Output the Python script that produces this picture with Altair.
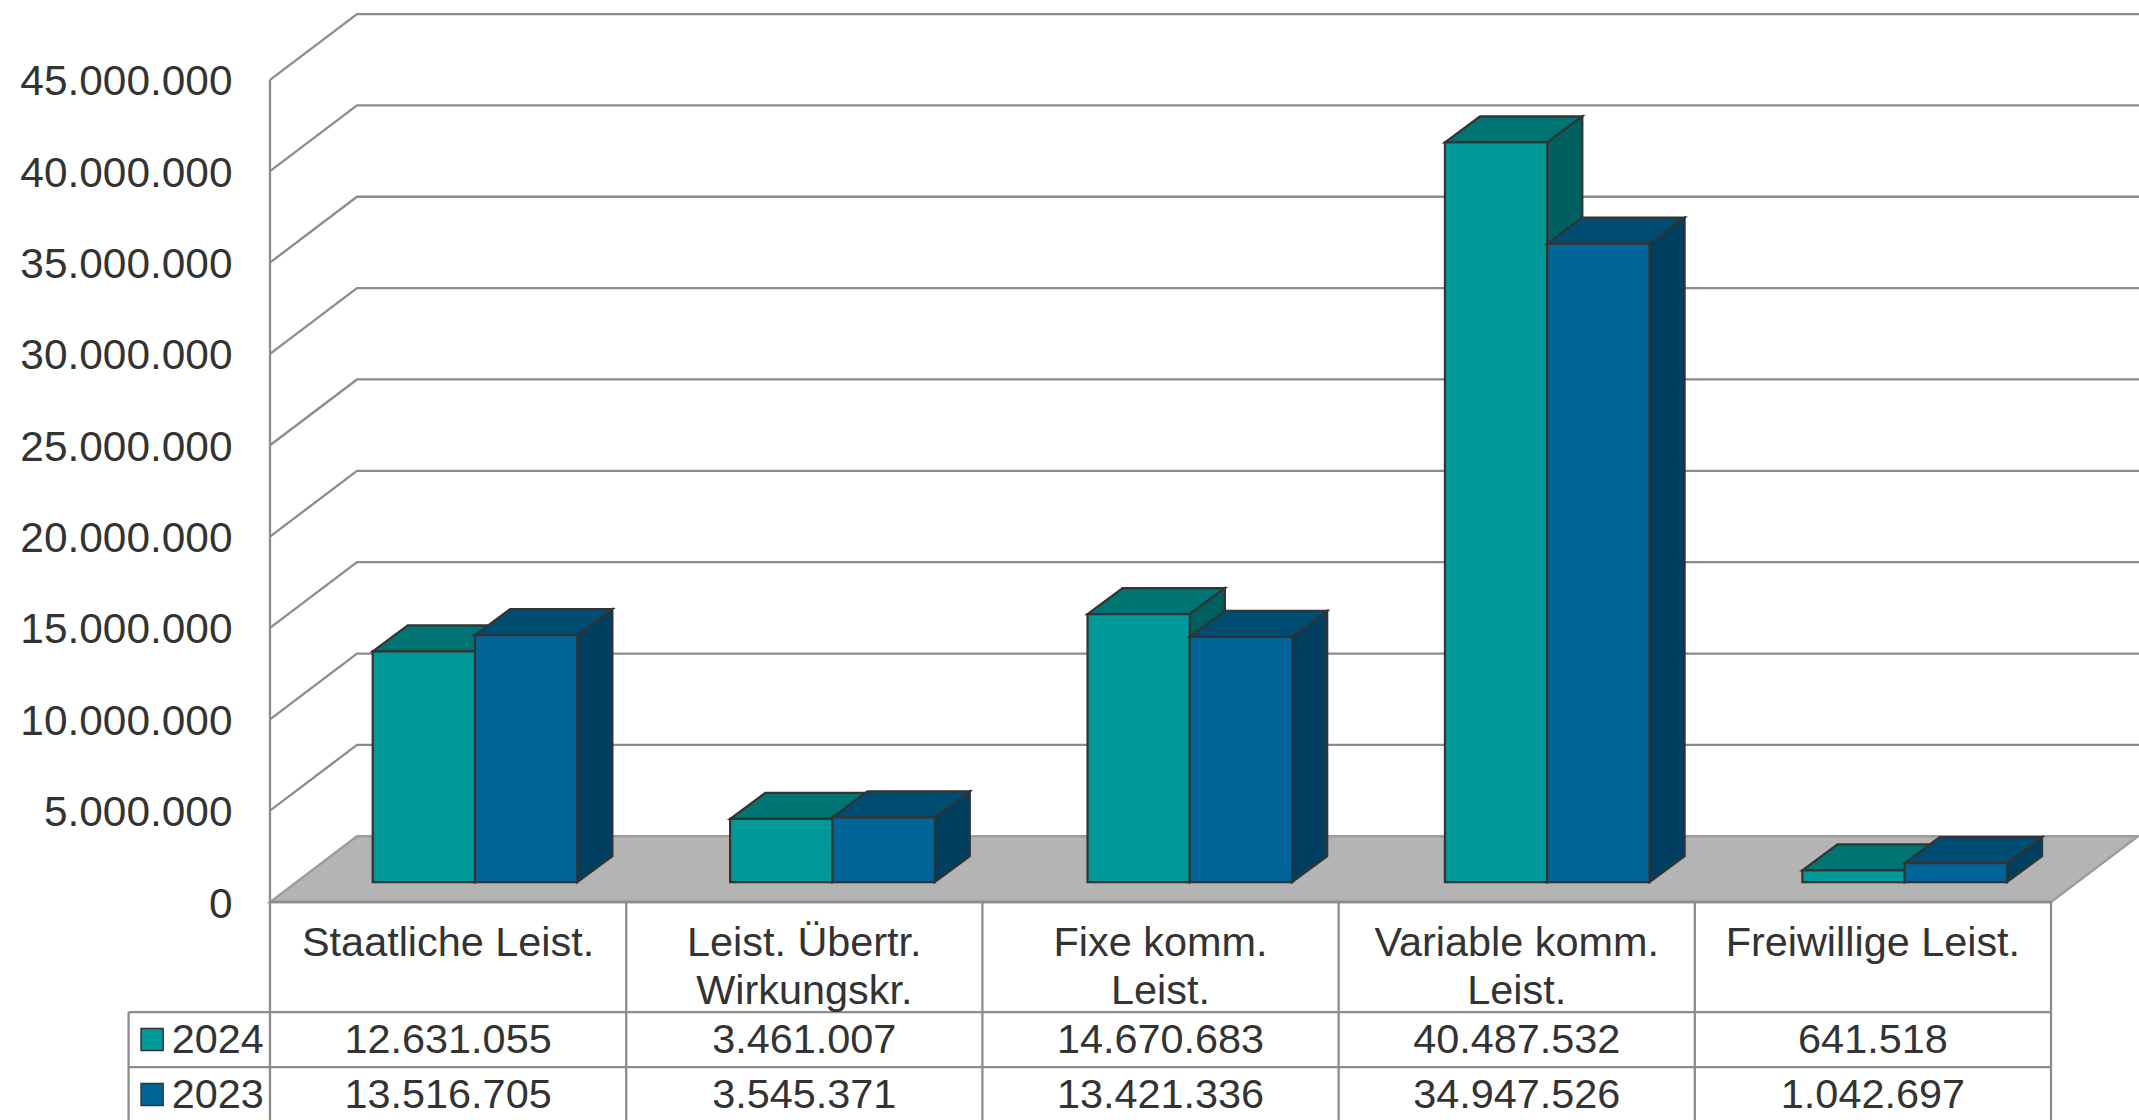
import altair as alt
import pandas as pd

# Source figures
categories = ["Staatliche Leist.", "Leist. Übertr. Wirkungskr.", "Fixe komm. Leist.",
              "Variable komm. Leist.", "Freiwillige Leist."]
category_lines = [["Staatliche Leist."], ["Leist. Übertr.", "Wirkungskr."], ["Fixe komm.", "Leist."],
                  ["Variable komm.", "Leist."], ["Freiwillige Leist."]]
series_names = ["2024", "2023"]
values_2024 = [12631055, 3461007, 14670683, 40487532, 641518]
values_2023 = [13516705, 3545371, 13421336, 34947526, 1042697]
axis_ticks = [0, 5000000, 10000000, 15000000, 20000000, 25000000, 30000000, 35000000, 40000000, 45000000]

# Pseudo-3D geometry, in scale units (x: one table column, y: value)
WALL_DX, WALL_DY = 0.2442, 3600000
BAR_START, BAR_STEP, BAR_W = 0.2883, 1.0034, 0.2872
BAR_DX, BAR_DY = 0.0985, 1420000
BAR_LIFT = 1090000
X_MAX, Y_MAX = 5.247, 49370000
TABLE_BOTTOM, ROW_1, ROW_2 = -12500000, -6030000, -9040000
LEGEND_LEFT = -0.397

FACE_COLORS = {
    "2024": {"front": "#009999", "top": "#007373", "side": "#005f5f"},
    "2023": {"front": "#006699", "top": "#004d73", "side": "#003f5f"},
}
GRID = "#8c8c8c"
INK = "#333333"
FONT = "Liberation Sans"
FONT_SIZE = 41.4

x_scale = alt.Scale(domain=[0, X_MAX], nice=False, zero=False)
y_scale = alt.Scale(domain=[0, Y_MAX], nice=False, zero=False)
y_axis = alt.Axis(
    values=axis_ticks, ticks=False, domain=False, grid=False, labelFont=FONT, title=None,
    labelFontSize=42.4, labelColor=INK, labelPadding=38, labelLimit=400, labelOffset=2,
    labelOverlap=False, labelExpr="replace(format(datum.value, ','), /,/g, '.')",
)
X = alt.X("x:Q", scale=x_scale, axis=None)
Y = alt.Y("y:Q", scale=y_scale, axis=y_axis, stack=None)
X2, Y2 = alt.X2("x2:Q"), alt.Y2("y2:Q")


def german(n):
    return f"{n:,}".replace(",", ".")


# Back wall: each gridline runs from the left edge up the side wall and along the back
grid_rows = []
for v in axis_ticks[1:]:
    for px, py in [(0, v), (WALL_DX, v + WALL_DY), (X_MAX, v + WALL_DY)]:
        grid_rows.append({"level": v, "x": px, "y": py})
grid = alt.Chart(pd.DataFrame(grid_rows)).mark_line(color=GRID, strokeWidth=2.3).encode(
    x=X, y=Y, detail="level:N",
)

# Floor
floor_data = pd.DataFrame([
    {"x": 0, "y": 0, "y2": 0},
    {"x": WALL_DX, "y": 0, "y2": WALL_DY},
    {"x": 5, "y": 0, "y2": WALL_DY},
    {"x": 5 + WALL_DX, "y": WALL_DY, "y2": WALL_DY},
])
floor = alt.Chart(floor_data).mark_area(
    color="#b4b4b4", stroke="#9c9c9c", strokeWidth=2.3, opacity=1, orient="vertical"
).encode(x=X, y=Y, y2=Y2)

# Table rules
rules = pd.DataFrame(
    [{"x": 0, "x2": 0, "y": 0, "y2": axis_ticks[-1]}]
    + [{"x": i, "x2": i, "y": 0, "y2": TABLE_BOTTOM} for i in range(0, 6)]
    + [{"x": LEGEND_LEFT, "x2": LEGEND_LEFT, "y": ROW_1, "y2": TABLE_BOTTOM},
       {"x": LEGEND_LEFT, "x2": 5, "y": ROW_1, "y2": ROW_1},
       {"x": LEGEND_LEFT, "x2": 5, "y": ROW_2, "y2": ROW_2},
       {"x": 0, "x2": 5, "y": 0, "y2": 0}]
)
table_rules = alt.Chart(rules).mark_rule(color=GRID, strokeWidth=2.3).encode(x=X, x2=X2, y=Y, y2=Y2)


def bar_layers(series, values, slot):
    """Top, side and front faces of one series of boxes, back to front."""
    top_rows, side_rows, front_rows = [], [], []
    for i, v in enumerate(values):
        x0 = BAR_START + BAR_STEP * i + BAR_W * slot
        x1 = x0 + BAR_W
        y0 = BAR_LIFT
        y1 = BAR_LIFT + v
        top_rows += [
            {"bar": i, "x": x0, "y": y1, "y2": y1},
            {"bar": i, "x": x0 + BAR_DX, "y": y1, "y2": y1 + BAR_DY},
            {"bar": i, "x": x1, "y": y1, "y2": y1 + BAR_DY},
            {"bar": i, "x": x1 + BAR_DX, "y": y1 + BAR_DY, "y2": y1 + BAR_DY},
        ]
        side_rows += [
            {"bar": i, "x": x1, "y": y0, "y2": y1},
            {"bar": i, "x": x1 + BAR_DX, "y": y0 + BAR_DY, "y2": y1 + BAR_DY},
        ]
        front_rows.append({"bar": i, "x": x0, "x2": x1, "y": y0, "y2": y1})
    colors = FACE_COLORS[series]
    style = dict(stroke=INK, strokeWidth=2.2, opacity=1)
    top = alt.Chart(pd.DataFrame(top_rows)).mark_area(
        color=colors["top"], orient="vertical", **style
    ).encode(x=X, y=Y, y2=Y2, detail="bar:N")
    side = alt.Chart(pd.DataFrame(side_rows)).mark_area(
        color=colors["side"], orient="vertical", **style
    ).encode(x=X, y=Y, y2=Y2, detail="bar:N")
    front = alt.Chart(pd.DataFrame(front_rows)).mark_rect(
        color=colors["front"], **style
    ).encode(x=X, x2=X2, y=Y, y2=Y2)
    return [top, side, front]


def text_layer(rows, align="center"):
    return alt.Chart(pd.DataFrame(rows)).mark_text(
        align=align, baseline="alphabetic", font=FONT, fontSize=FONT_SIZE, color=INK
    ).encode(x=X, y=Y, text="label:N")


# Table text
LINE_BASELINES = [-2930000, -5560000]
head_rows = [
    {"x": i + 0.5, "y": LINE_BASELINES[j], "label": line}
    for i, lines in enumerate(category_lines)
    for j, line in enumerate(lines)
]
ROW_BASELINES = {"2024": -8290000, "2023": -11300000}
cell_rows = [
    {"x": i + 0.5, "y": ROW_BASELINES[name], "label": german(v)}
    for name, vals in zip(series_names, [values_2024, values_2023])
    for i, v in enumerate(vals)
]
legend_rows = [{"x": -0.276, "y": ROW_BASELINES[name], "label": name} for name in series_names]

swatches = pd.DataFrame([
    {"series": "2024", "x": -0.362, "x2": -0.300, "y": -6920000, "y2": -8130000},
    {"series": "2023", "x": -0.362, "x2": -0.300, "y": -9930000, "y2": -11140000},
])
swatch_layer = alt.Chart(swatches).mark_rect(stroke=INK, strokeWidth=1.5, opacity=1).encode(
    x=X, x2=X2, y=Y, y2=Y2,
    color=alt.Color(
        "series:N", legend=None,
        scale=alt.Scale(domain=series_names, range=[FACE_COLORS[n]["front"] for n in series_names]),
    ),
)

chart = alt.layer(
    grid, floor, table_rules,
    *bar_layers("2024", values_2024, 0),
    *bar_layers("2023", values_2023, 1),
    text_layer(head_rows), text_layer(cell_rows), text_layer(legend_rows, align="left"),
    swatch_layer,
).properties(
    width=1869, height=902,
    padding={"left": 270, "top": 0, "right": 0, "bottom": 218},
    autosize=alt.AutoSizeParams(type="none"),
    background="white",
).configure_view(stroke=None)

chart.save("out.html", embed_options={"renderer": "svg", "actions": False})
